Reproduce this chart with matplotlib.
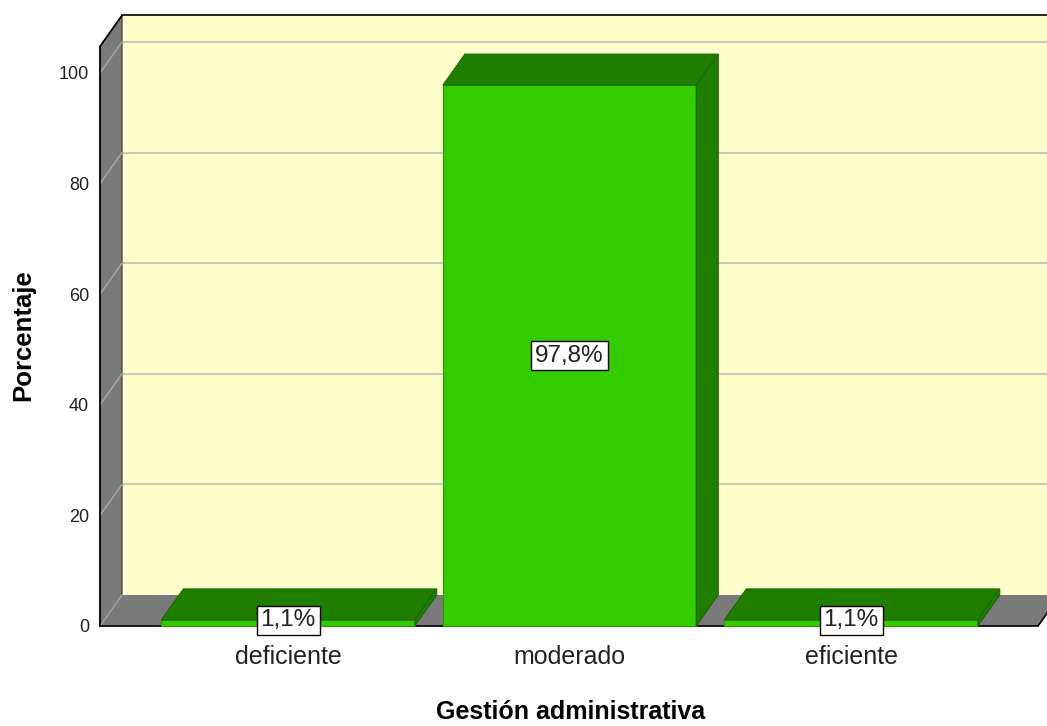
import matplotlib.pyplot as plt
from matplotlib.patches import Polygon

# data
categories = ['deficiente', 'moderado', 'eficiente']
percent = [1.1, 97.8, 1.1]
yticks = [0, 20, 40, 60, 80, 100]

plt.rcParams['font.family'] = ['Liberation Sans', 'DejaVu Sans']

fig = plt.figure(figsize=(10.47, 7.26), dpi=100)
ax = fig.add_axes([100 / 1047, 100 / 726, 947 / 1047, 610 / 726])
ax.set_xlim(-0.668, 2.696)
ax.set_ylim(0, 110.3)
ax.patch.set_visible(False)
for s in ax.spines.values():
    s.set_visible(False)

# fake 3d depth offset (data units)
dx = 22 / 281.5
dy = 31 / 5.53
xl, xr = -0.668, 2.664
ytop = 104.8

wall_col = '#FFFFCC'
side_col = '#7A7A7A'
grid_col = '#C8C8B8'
front_col = '#33CC00'
dark_col = '#1F7D00'


def poly(pts, **kw):
    p = Polygon(pts, closed=True, clip_on=False, **kw)
    ax.add_patch(p)
    return p


# back wall
poly([(xl + dx, dy), (xr + dx, dy), (xr + dx, ytop + dy), (xl + dx, ytop + dy)],
     facecolor=wall_col, edgecolor='none', zorder=1)
ax.plot([xl + dx, xr + dx], [ytop + dy, ytop + dy], color='black', lw=1.2, zorder=3, clip_on=False)
for v in yticks[1:]:
    ax.plot([xl + dx, xr + dx], [v + dy, v + dy], color=grid_col, lw=1.5, zorder=2, clip_on=False)

# left side wall
poly([(xl, 0), (xl + dx, dy), (xl + dx, ytop + dy), (xl, ytop)],
     facecolor=side_col, edgecolor='#333333', lw=0.8, zorder=3)
for v in yticks:
    ax.plot([xl, xl + dx], [v, v + dy], color='#A8A8A8', lw=1, zorder=4, clip_on=False)
ax.plot([xl, xl, xl + dx], [0, ytop, ytop + dy], color='black', lw=1.2, zorder=5, clip_on=False)

# floor
poly([(xl, 0), (xr, 0), (xr + dx, dy), (xl + dx, dy)],
     facecolor=side_col, edgecolor='none', zorder=3)
ax.plot([xl, xr, xr + dx], [0, 0, dy], color='black', lw=1.2, zorder=5, clip_on=False)

# bars
w = 0.9
for i, v in enumerate(percent):
    x0, x1 = i - w / 2, i + w / 2
    poly([(x0, 0), (x1, 0), (x1, v), (x0, v)],
         facecolor=front_col, edgecolor='#2A9A00', lw=0.8, zorder=6)
    poly([(x0, v), (x1, v), (x1 + dx, v + dy), (x0 + dx, v + dy)],
         facecolor=dark_col, edgecolor='#1A6A00', lw=0.8, zorder=6)
    poly([(x1, 0), (x1 + dx, dy), (x1 + dx, v + dy), (x1, v)],
         facecolor=dark_col, edgecolor='#1A6A00', lw=0.8, zorder=6)
    lab = f'{v:.1f}%'.replace('.', ',')
    ax.text(i, max(v / 2, 1.0), lab, ha='center', va='center', fontsize=17.5,
            color='#222222',
            bbox=dict(boxstyle='square,pad=0.16', facecolor='white', edgecolor='black', lw=1),
            zorder=8)

ax.set_xticks(range(len(categories)))
ax.set_xticklabels(categories, fontsize=18, color='#222222')
ax.set_yticks(yticks)
ax.set_yticklabels([str(t) for t in yticks], fontsize=13, color='#222222')
ax.tick_params(axis='x', length=0, pad=14)
ax.tick_params(axis='y', length=0, pad=8)

fig.text(23 / 1047, 1 - 335 / 726, 'Porcentaje', rotation=90, ha='center', va='center',
         fontsize=18.5, fontweight='bold')
fig.text(571 / 1047, 7 / 726, 'Gestión administrativa', ha='center', va='baseline',
         fontsize=18, fontweight='bold')

fig.savefig('out.png', dpi=100)
